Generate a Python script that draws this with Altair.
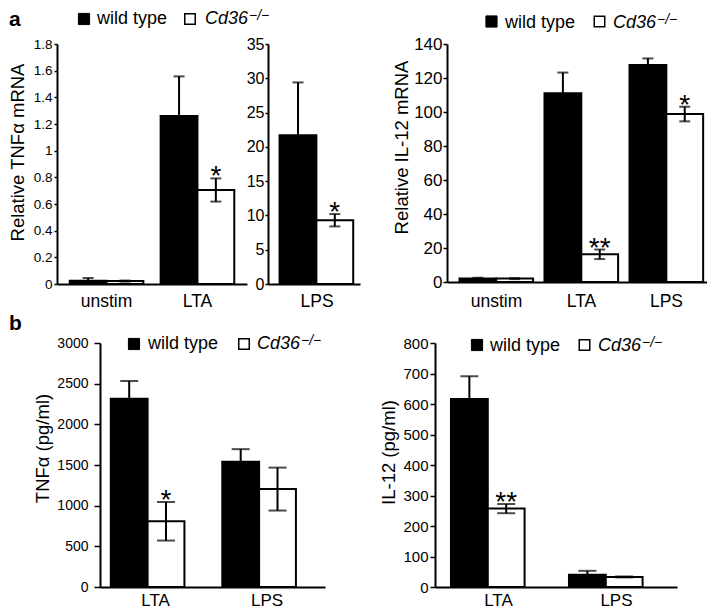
import altair as alt
import pandas as pd

FONT = "Liberation Sans"
WT = "wild type"
KO = "Cd36-/-"

# ---- panel a (left): relative TNFα mRNA, unstim / LTA
a1_cats = ["unstim", "LTA"]
a1_wt = [0.025, 1.26]
a1_wt_err = [0.02, 0.297]
a1_ko = [0.022, 0.705]
a1_ko_err = [0.004, 0.087]
a1_sig = ["", "*"]

# ---- panel a (middle): relative TNFα mRNA, LPS
a2_cats = ["LPS"]
a2_wt = [21.7]
a2_wt_err = [7.7]
a2_ko = [9.3]
a2_ko_err = [0.9]
a2_sig = ["*"]

# ---- panel a (right): relative IL-12 mRNA
a3_cats = ["unstim", "LTA", "LPS"]
a3_wt = [2.0, 111, 127.6]
a3_wt_err = [0.5, 12.2, 3.9]
a3_ko = [2.0, 16.3, 98.8]
a3_ko_err = [0.3, 2.8, 4.3]
a3_sig = ["", "**", "*"]

# ---- panel b (left): TNFα (pg/ml)
b1_cats = ["LTA", "LPS"]
b1_wt = [2315, 1540]
b1_wt_err = [218, 155]
b1_ko = [808, 1204]
b1_ko_err = [237, 264]
b1_sig = ["*", ""]

# ---- panel b (right): IL-12 (pg/ml)
b2_cats = ["LTA", "LPS"]
b2_wt = [616, 40]
b2_wt_err = [75, 13]
b2_ko = [257, 33]
b2_ko_err = [15, 1.5]
b2_sig = ["**", ""]

a1_ticks = [0, 0.2, 0.4, 0.6, 0.8, 1, 1.2, 1.4, 1.6, 1.8]
a2_ticks = [0, 5, 10, 15, 20, 25, 30, 35]
a3_ticks = [0, 20, 40, 60, 80, 100, 120, 140]
b1_ticks = [0, 500, 1000, 1500, 2000, 2500, 3000]
b2_ticks = [0, 100, 200, 300, 400, 500, 600, 700, 800]


def legend(bx, tx, wx, cx, sq_y, base_y):
    base = alt.Chart(pd.DataFrame({"k": [0]}))
    blk = base.mark_square(size=125, fill="black", stroke="black", strokeWidth=1, opacity=1).encode(
        x=alt.value(bx), y=alt.value(sq_y))
    wht = base.mark_square(size=110, fill="white", stroke="black", strokeWidth=1.5, opacity=1).encode(
        x=alt.value(wx), y=alt.value(sq_y))
    t1 = base.mark_text(text="wild type", align="left", baseline="alphabetic", fontSize=18,
                        font=FONT, color="black").encode(x=alt.value(tx), y=alt.value(base_y))
    t2 = base.mark_text(text="Cd36", align="left", baseline="alphabetic", fontSize=18, fontStyle="italic",
                        font=FONT, color="black").encode(x=alt.value(cx), y=alt.value(base_y))
    t3 = base.mark_text(text="\u2212/\u2212", align="left", baseline="alphabetic", fontSize=14,
                        fontStyle="italic", font=FONT, color="black").encode(
        x=alt.value(cx + 44), y=alt.value(base_y - 4))
    return [blk, wht, t1, t2, t3]


def panel_label(txt, x, y):
    base = alt.Chart(pd.DataFrame({"k": [0]}))
    return base.mark_text(text=txt, align="left", baseline="alphabetic", fontSize=21, fontWeight="bold",
                          font=FONT, color="black").encode(x=alt.value(x), y=alt.value(y))


def panel(cats, wt, wt_err, ko, ko_err, sig, *, width, height, ymax, ticks, fmt, title,
          pi, po, align, tick_font, tick_size, label_pad, title_pad, title_up, cap, xlabel_pad, xfont,
          extra):
    n = len(cats)
    df = pd.DataFrame({
        "cat": cats * 2,
        "group": [WT] * n + [KO] * n,
        "value": wt + ko,
        "lo": wt + [v - e for v, e in zip(ko, ko_err)],
        "hi": [v + e for v, e in zip(wt, wt_err)] + [v + e for v, e in zip(ko, ko_err)],
        "sig": [""] * n + sig,
    })
    caps = pd.DataFrame({
        "cat": list(df["cat"]) + cats,
        "group": list(df["group"]) + [KO] * n,
        "yv": list(df["hi"]) + list(df["lo"][n:]),
    })
    stars = df[df["sig"] != ""]

    x = alt.X("cat:N", sort=cats, title=None,
              scale=alt.Scale(paddingInner=pi, paddingOuter=po, align=align),
              axis=alt.Axis(labelAngle=0, ticks=False, tickSize=0, labelPadding=xlabel_pad,
                            labelFontSize=xfont, labelFont=FONT, labelColor="black",
                            domainColor="black", domainWidth=2))
    xo = alt.XOffset("group:N", sort=[WT, KO], scale=alt.Scale(paddingInner=0, paddingOuter=0))
    yscale = alt.Scale(domain=[0, ymax], nice=False, zero=True)
    yaxis = alt.Axis(values=ticks, format=fmt, grid=False, labelFontSize=tick_font, labelFont=FONT,
                     labelColor="black", tickColor="black", tickSize=tick_size, tickWidth=1.5,
                     labelPadding=label_pad, domainColor="black", domainWidth=2,
                     titleFontSize=18.5, titleFont=FONT, titleFontWeight="normal", titleColor="black",
                     titlePadding=title_pad, titleY=height / 2 - title_up)

    def Y(field):
        return alt.Y(field, scale=yscale, axis=yaxis, title=title)

    color = alt.Color("group:N", scale=alt.Scale(domain=[WT, KO], range=["black", "white"]), legend=None)

    bars = alt.Chart(df).mark_bar(stroke="black", strokeWidth=2).encode(
        x=x, xOffset=xo, y=Y("value:Q"), fill=color)
    rules = alt.Chart(df).mark_rule(color="black", strokeWidth=2).encode(
        x=x, xOffset=xo, y=Y("lo:Q"), y2="hi:Q")
    capm = alt.Chart(caps).mark_tick(color="black", thickness=2, size=cap).encode(
        x=x, xOffset=xo, y=Y("yv:Q"))
    starm = alt.Chart(stars).mark_text(fontSize=28, font=FONT, color="black", baseline="alphabetic",
                                       dy=7).encode(x=x, xOffset=xo, y=Y("hi:Q"), text="sig:N")
    return alt.layer(bars, rules, capm, starm, *extra).properties(width=width, height=height)


def spacer(w):
    return alt.Chart(pd.DataFrame({"v": [0]})).mark_point(opacity=0, size=1).encode(
        x=alt.X("v:Q", axis=None), y=alt.Y("v:Q", axis=None)).properties(width=w, height=1)


a1 = panel(a1_cats, a1_wt, a1_wt_err, a1_ko, a1_ko_err, a1_sig, width=190, height=240, ymax=1.8,
           ticks=a1_ticks, fmt="~g", title="Relative TNF\u03b1 mRNA", pi=0.19, po=0.14, align=0.5,
           tick_font=13.5, tick_size=3, label_pad=2, title_pad=6, title_up=12, cap=11, xlabel_pad=8,
           xfont=17.5, extra=legend(27, 40, 133, 148, -25, -20) + [panel_label("a", -48, -18)])
a2 = panel(a2_cats, a2_wt, a2_wt_err, a2_ko, a2_ko_err, a2_sig, width=92, height=240, ymax=35,
           ticks=a2_ticks, fmt="d", title=None, pi=0.19, po=0.092, align=0.68,
           tick_font=16, tick_size=3, label_pad=1, title_pad=5, title_up=0, cap=11, xlabel_pad=8,
           xfont=17.5, extra=[])
a3 = panel(a3_cats, a3_wt, a3_wt_err, a3_ko, a3_ko_err, a3_sig, width=260, height=238, ymax=140,
           ticks=a3_ticks, fmt="d", title="Relative IL-12 mRNA", pi=0.13, po=0.094, align=0.78,
           tick_font=17, tick_size=4, label_pad=1, title_pad=2, title_up=16, cap=11, xlabel_pad=10,
           xfont=17.5, extra=legend(44.5, 58, 152.5, 166, -22.5, -16.5))
b1 = panel(b1_cats, b1_wt, b1_wt_err, b1_ko, b1_ko_err, b1_sig, width=225, height=244, ymax=3000,
           ticks=b1_ticks, fmt="d", title="TNF\u03b1 (pg/ml)", pi=0.197, po=0.1075, align=0.45,
           tick_font=14, tick_size=6, label_pad=6, title_pad=4, title_up=17, cap=18, xlabel_pad=5,
           xfont=17, extra=legend(34, 48, 144, 157, 1, 6) + [panel_label("b", -91, -13)])
b2 = panel(b2_cats, b2_wt, b2_wt_err, b2_ko, b2_ko_err, b2_sig, width=242, height=244, ymax=800,
           ticks=b2_ticks, fmt="d", title="IL-12 (pg/ml)", pi=0.195, po=0.123, align=0.55,
           tick_font=15, tick_size=5, label_pad=2, title_pad=4, title_up=13, cap=18, xlabel_pad=5,
           xfont=17, extra=legend(42, 55, 149.5, 163, 2, 8))

row1 = alt.hconcat(a1, a2, spacer(45), a3, spacing=21, bounds="flush")
row2 = alt.hconcat(spacer(22), b1, spacer(68), b2, spacing=21, bounds="flush")

chart = alt.vconcat(row1, row2, spacing=3).properties(
    padding={"top": 1, "left": 0, "right": 0, "bottom": 0}
).configure(font=FONT).configure_view(stroke=None)

chart.save("out.html", embed_options={"renderer": "svg", "actions": False})
